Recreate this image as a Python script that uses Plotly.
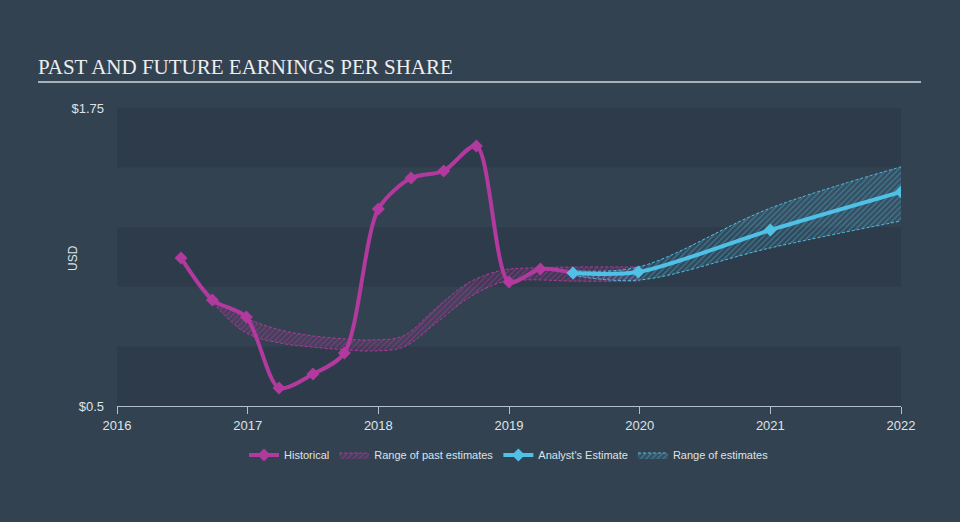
import plotly.graph_objects as go

# ---- data ----
hist_x = [2016.49, 2016.73, 2016.99, 2017.24, 2017.5, 2017.74, 2018.0, 2018.25, 2018.5, 2018.75, 2019.0, 2019.24, 2019.49]
hist_y = [1.121, 0.945, 0.873, 0.576, 0.634, 0.722, 1.326, 1.456, 1.486, 1.591, 1.02, 1.075, 1.058]

past_rng_x = [2016.49, 2016.73, 2016.99, 2017.25, 2017.5, 2017.76, 2017.94, 2018.19, 2018.45, 2018.70, 2018.95, 2019.16, 2019.49, 2020.0]
past_rng_hi = [1.125, 0.957, 0.869, 0.819, 0.794, 0.781, 0.777, 0.794, 0.915, 1.020, 1.070, 1.079, 1.083, 1.083]
past_rng_lo = [1.118, 0.936, 0.806, 0.764, 0.747, 0.735, 0.731, 0.747, 0.852, 0.957, 1.020, 1.029, 1.024, 1.024]

est_x = [2019.49, 2019.99, 2021.0, 2022.0]
est_y = [1.058, 1.062, 1.238, 1.398]
est_rng_x = [2019.49, 2019.99, 2021.0, 2022.0]
est_rng_hi = [1.068, 1.083, 1.330, 1.503]
est_rng_lo = [1.048, 1.028, 1.163, 1.276]

x_ticks = [2016, 2017, 2018, 2019, 2020, 2021, 2022]
y_ticks = [0.5, 1.75]
y_tick_text = ["$0.5", "$1.75"]

MAG = "#b2399e"
CYA = "#4fc1e6"
PAPER = "#334251"
BAND = "#2e3b4a"
TXT = "#dde3e8"

fig = go.Figure()

# past estimate range
fig.add_trace(go.Scatter(x=past_rng_x, y=past_rng_lo, mode="lines", line=dict(color=MAG, width=1, dash="3px,2px", shape="spline"),
                         showlegend=False, hoverinfo="skip"))
fig.add_trace(go.Scatter(x=past_rng_x, y=past_rng_hi, mode="lines", line=dict(color=MAG, width=1, dash="3px,2px", shape="spline"),
                         fill="tonexty", fillcolor="rgba(178,57,158,0.15)",
                         fillpattern=dict(shape="/", fgcolor="rgba(178,57,158,0.95)", bgcolor="rgba(178,57,158,0.12)", size=4, solidity=0.3),
                         name="Range of past estimates", legendrank=2))
# analyst estimate range
fig.add_trace(go.Scatter(x=est_rng_x, y=est_rng_lo, mode="lines", line=dict(color=CYA, width=1, dash="3px,2px", shape="spline"),
                         showlegend=False, hoverinfo="skip"))
fig.add_trace(go.Scatter(x=est_rng_x, y=est_rng_hi, mode="lines", line=dict(color=CYA, width=1, dash="3px,2px", shape="spline"),
                         fill="tonexty", fillcolor="rgba(79,193,230,0.15)",
                         fillpattern=dict(shape="/", fgcolor="rgba(79,193,230,0.8)", bgcolor="rgba(79,193,230,0.10)", size=4, solidity=0.3),
                         name="Range of estimates", legendrank=4))
# historical
fig.add_trace(go.Scatter(x=hist_x, y=hist_y, mode="lines+markers", line=dict(color=MAG, width=4, shape="spline", smoothing=0.8),
                         marker=dict(symbol="diamond", size=10, color=MAG), name="Historical", legendrank=1))
# analyst estimate
fig.add_trace(go.Scatter(x=est_x, y=est_y, mode="lines+markers", line=dict(color=CYA, width=4, shape="spline", smoothing=0.8),
                         marker=dict(symbol="diamond", size=10, color=CYA), name="Analyst's Estimate", legendrank=3))

shapes = []
for y0, y1 in [(1.5, 1.75), (1.0, 1.25), (0.5, 0.75)]:
    shapes.append(dict(type="rect", xref="x", yref="y", x0=2016, x1=2022, y0=y0, y1=y1,
                       fillcolor=BAND, line=dict(width=0), layer="below"))
# title underline
shapes.append(dict(type="line", xref="paper", yref="paper", x0=(38 - 117) / 784, x1=(921 - 117) / 784,
                   y0=(406 - 82) / 298, y1=(406 - 82) / 298, line=dict(color="#aab1b8", width=2)))

fig.update_layout(
    width=960, height=522,
    paper_bgcolor=PAPER, plot_bgcolor="rgba(0,0,0,0)",
    margin=dict(l=117, r=59, t=108, b=116),
    title=dict(text="PAST AND FUTURE EARNINGS PER SHARE", x=38 / 960, xanchor="left", xref="container",
               y=1 - 67 / 522, yanchor="middle", yref="container",
               font=dict(family="Liberation Serif, Times New Roman, serif", size=21, color="#eeeeee")),
    shapes=shapes,
    xaxis=dict(range=[2016, 2022], tickvals=x_ticks, ticktext=[str(t) for t in x_ticks], showgrid=False, zeroline=False,
               showline=True, linecolor="#b3bec8", linewidth=1, ticks="outside", ticklen=7, tickcolor="#b3bec8",
               tickfont=dict(family="Liberation Sans Narrow, Arial Narrow, Liberation Sans, sans-serif", size=13, color=TXT)),
    yaxis=dict(range=[0.5, 1.75], tickvals=y_ticks, ticktext=y_tick_text, showgrid=False, zeroline=False, showline=False,
               ticks="", ticklabelstandoff=12,
               tickfont=dict(family="Liberation Sans, Arial, sans-serif", size=13, color=TXT)),
    legend=dict(orientation="h", x=0.5, xanchor="center", y=(406 - 455) / 298, yanchor="middle",
                font=dict(family="Liberation Sans, Arial, sans-serif", size=11, color=TXT),
                bgcolor="rgba(0,0,0,0)", itemwidth=30, traceorder="normal"),
    annotations=[dict(text="USD", xref="paper", yref="paper", x=(73 - 117) / 784, y=(406 - 258) / 298,
                      textangle=-90, showarrow=False, xanchor="center", yanchor="middle",
                      font=dict(family="Liberation Sans, Arial, sans-serif", size=12, color=TXT))],
    hovermode=False,
)

fig.write_html("out.html")
